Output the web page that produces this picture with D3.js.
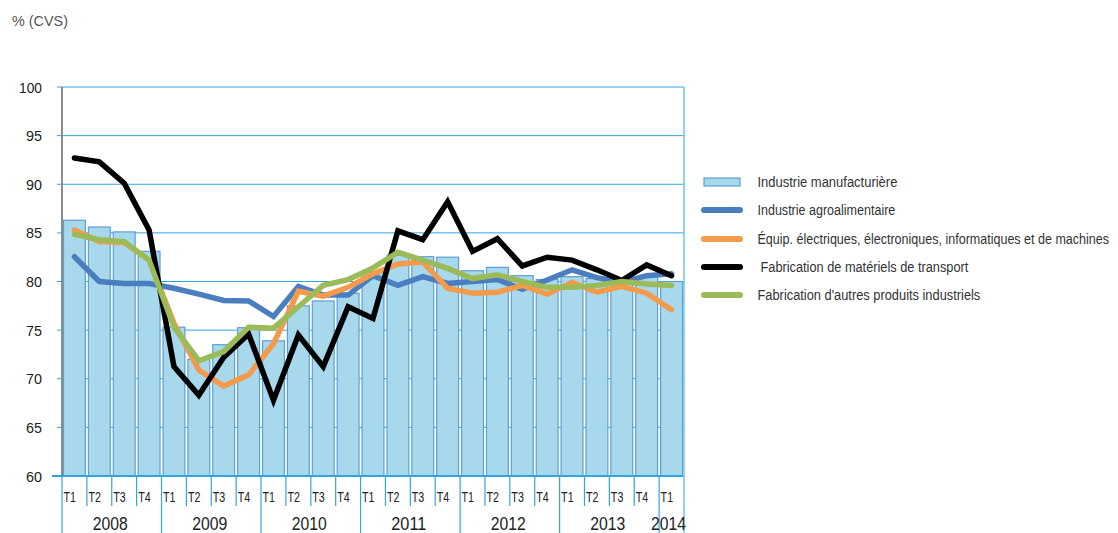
<!DOCTYPE html>
<html><head><meta charset="utf-8">
<script src="https://cdn.jsdelivr.net/npm/d3@7"></script>
<style>
body{margin:0;background:#fff;}
text{font-family:'Liberation Sans Narrow','Liberation Sans',Arial,sans-serif;}
</style></head>
<body><svg id="c" width="1118" height="533"></svg>
<script>
const years = ["2008","2009","2010","2011","2012","2013","2014"];
const quarters = ["T1","T2","T3","T4"];
const periods = [];
years.forEach(y => quarters.forEach(q => { if (!(y === "2014" && q !== "T1")) periods.push(y + q); }));

const manufacturiere = [86.3,85.6,85.1,83.1,75.3,72.0,73.5,75.25,73.9,77.5,78.0,78.8,81.0,82.7,82.55,82.5,81.1,81.45,80.6,80.2,80.5,80.3,80.3,80.5,80.0];
const agroalimentaire = [82.55,80.0,79.8,79.8,79.3,78.7,78.05,78.0,76.4,79.5,78.6,78.6,80.6,79.6,80.5,79.8,80.0,80.2,79.2,80.15,81.2,80.4,79.9,80.6,80.8];
const equipElec = [85.3,84.1,84.0,82.2,75.7,70.9,69.25,70.4,73.6,79.0,78.5,79.4,80.8,81.8,82.0,79.3,78.8,78.9,79.6,78.7,79.9,78.9,79.5,78.8,77.1];
const transport = [92.7,92.3,90.1,85.3,71.25,68.3,72.2,74.6,67.8,74.5,71.25,77.4,76.2,85.2,84.3,88.2,83.1,84.4,81.6,82.5,82.2,81.2,80.1,81.7,80.6];
const autresProduits = [84.85,84.3,84.1,82.2,75.3,71.85,72.8,75.3,75.2,77.4,79.6,80.2,81.4,83.0,82.2,81.35,80.3,80.7,80.0,79.4,79.4,79.6,80.0,79.75,79.6];
const yTicks = [60,65,70,75,80,85,90,95,100];

const seriesNames = ["Industrie manufacturière","Industrie agroalimentaire","Équip. électriques, électroniques, informatiques et de machines","Fabrication de matériels de transport","Fabrication d'autres produits industriels"];
const legendWidths = [140, 138, 352, 208, 223];
const lineSeries = [
  {name: seriesNames[1], values: agroalimentaire, color: "#4a7ebf"},
  {name: seriesNames[2], values: equipElec, color: "#f39a4b"},
  {name: seriesNames[3], values: transport, color: "#000000"},
  {name: seriesNames[4], values: autresProduits, color: "#9bbb59"}
];

const svg = d3.select("#c");
const pL = 62, pR = 684, pT = 87, pB = 476;
const x = d3.scaleBand().domain(periods).range([pL, pR]).paddingInner(0).paddingOuter(0);
const y = d3.scaleLinear().domain([60,100]).range([pB, pT]);
const gridColor = "#2fa6de";

// helper: draw text squeezed horizontally to a target width
function squeezed(parent, str, x0, y0, w, size, fill, anchor) {
  const t = parent.append("text").attr("font-size", size).attr("fill", fill).text(str);
  const len = t.node().getComputedTextLength();
  const s = Math.min(1, w / len);
  const xs = anchor === "end" ? x0 - w : x0;
  t.attr("transform", `translate(${xs},${y0}) scale(${s},1)`);
  return t;
}

// gridlines
svg.append("g").selectAll("line").data(yTicks.filter(d => d > 60)).join("line")
  .attr("x1", pL - 5).attr("x2", pR).attr("y1", d => y(d)).attr("y2", d => y(d))
  .attr("stroke", gridColor).attr("stroke-width", 1);

// bars
svg.append("g").selectAll("rect").data(manufacturiere).join("rect")
  .attr("x", (d,i) => x(periods[i]) + 1.5)
  .attr("width", x.bandwidth() - 3)
  .attr("y", d => y(d))
  .attr("height", d => y(60) - y(d))
  .attr("fill", "#a7d8ec").attr("stroke", "#5c9fd6").attr("stroke-width", 1.2);

// lines
const line = d3.line().x((d,i) => x(periods[i]) + x.bandwidth()/2).y(d => y(d));
svg.append("g").selectAll("path").data(lineSeries).join("path")
  .attr("d", d => line(d.values)).attr("fill", "none")
  .attr("stroke", d => d.color).attr("stroke-width", 5.5)
  .attr("stroke-linejoin", "miter").attr("stroke-linecap", "round");

// y axis
const ya = svg.append("g");
ya.append("line").attr("x1", pL).attr("x2", pL).attr("y1", pT).attr("y2", pB).attr("stroke", "#8c8c8c").attr("stroke-width", 2);
yTicks.forEach(d => squeezed(ya, String(d), 42, y(d) + 5.5, d >= 100 ? 23 : 16, 15, "#222", "end"));

// bottom axis line
svg.append("line").attr("x1", pL - 10).attr("x2", pR).attr("y1", pB).attr("y2", pB).attr("stroke", gridColor).attr("stroke-width", 2);
// right border
svg.append("line").attr("x1", pR).attr("x2", pR).attr("y1", pT).attr("y2", 533).attr("stroke", "#6cc4ea").attr("stroke-width", 1.5);

// category ticks
const xa = svg.append("g");
periods.forEach((p, i) => {
  const isYearStart = p.endsWith("T1");
  const xx = x(p);
  xa.append("line").attr("x1", xx).attr("x2", xx).attr("y1", pB).attr("y2", isYearStart ? 533 : 506)
    .attr("stroke", gridColor).attr("stroke-width", 1.2);
  squeezed(xa, p.slice(4), xx + 1.5, 501.5, 12.5, 15.5, "#222");
});
years.forEach(yr => {
  const ps = periods.filter(p => p.startsWith(yr));
  const x0 = x(ps[0]), x1 = x(ps[ps.length-1]) + x.bandwidth();
  const cx = yr === "2014" ? x0 + x.bandwidth()/2 - 3 : (x0 + x1)/2 - 1.5;
  squeezed(xa, yr, cx - 17.5, 529.5, 35, 18, "#222");
});

// title
squeezed(svg, "% (CVS)", 12, 26, 56, 15, "#555");

// legend
const lg = svg.append("g");
const ly = [182, 210, 239, 267, 295];
lg.append("rect").attr("x", 704).attr("y", ly[0]-4).attr("width", 36).attr("height", 8)
  .attr("fill", "#a7d8ec").attr("stroke", "#5c9fd6").attr("stroke-width", 1.2);
lineSeries.forEach((s, i) => {
  lg.append("line").attr("x1", 704).attr("x2", 740).attr("y1", ly[i+1]).attr("y2", ly[i+1])
    .attr("stroke", s.color).attr("stroke-width", 6).attr("stroke-linecap", "round");
});
seriesNames.forEach((n, i) => {
  squeezed(lg, n, i === 3 ? 760.5 : 757.5, ly[i] + 5, legendWidths[i], 15.5, "#333");
});
</script></body></html>
